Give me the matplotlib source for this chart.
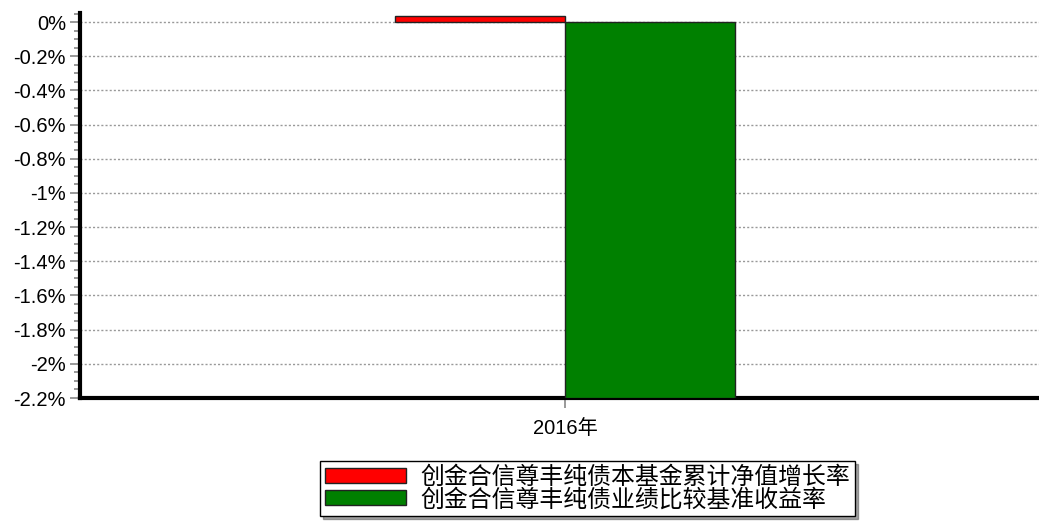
import matplotlib
matplotlib.use('Agg')
import matplotlib.pyplot as plt
from matplotlib.ticker import MultipleLocator, FuncFormatter
import numpy as np

plt.rcParams['font.family'] = ['Liberation Sans', 'Noto Sans CJK SC', 'DejaVu Sans']

# data
categories = ['2016年']
fund_growth = [0.035]
benchmark_growth = [-2.2]
series_labels = ['创金合信尊丰纯债本基金累计净值增长率', '创金合信尊丰纯债业绩比较基准收益率']

fig = plt.figure(figsize=(10.39, 5.23), dpi=100)
ax = fig.add_axes([0.077, 0.239, 0.934, 0.736])

x = np.arange(len(categories))
w = 0.175
ax.bar(x - w / 2, fund_growth, width=w, color='#ff0000', edgecolor='#222222', linewidth=1, label=series_labels[0], zorder=3)
ax.bar(x + w / 2, benchmark_growth, width=w, color='#008000', edgecolor='#222222', linewidth=1, label=series_labels[1], zorder=3)

ax.set_xlim(-0.5, 0.5)
ax.set_ylim(-2.2, 0.053)
ax.set_xticks(x)
ax.set_xticklabels(categories, fontsize=14.5)

ax.yaxis.set_major_locator(MultipleLocator(0.2))
ax.yaxis.set_minor_locator(MultipleLocator(0.05))
ax.yaxis.set_major_formatter(FuncFormatter(lambda v, p: f'{v:.1f}%'.replace('.0%', '%').replace('-0%', '0%')))
ax.tick_params(axis='y', which='major', labelsize=14.5, length=7, color='#888888', width=1.2, pad=3)
ax.tick_params(axis='y', which='minor', length=4, color='#888888', width=1.2)
ax.tick_params(axis='x', length=7, color='#888888', width=1.2, pad=8)

ax.grid(axis='y', which='major', linestyle=(0, (1.5, 1.5)), color='#999999', linewidth=1, zorder=0)

for s in ['top', 'right']:
    ax.spines[s].set_visible(False)
ax.spines['left'].set_linewidth(3)
ax.spines['bottom'].set_linewidth(3)

fig.legend(loc='upper left', bbox_to_anchor=(0.308, 0.118), fontsize=17.2, frameon=True,
           fancybox=False, shadow=True, edgecolor='black', handlelength=3.4, handleheight=0.6,
           labelspacing=0.0, borderpad=0.2, handletextpad=0.6, borderaxespad=0)

plt.savefig('out.png', dpi=100)
